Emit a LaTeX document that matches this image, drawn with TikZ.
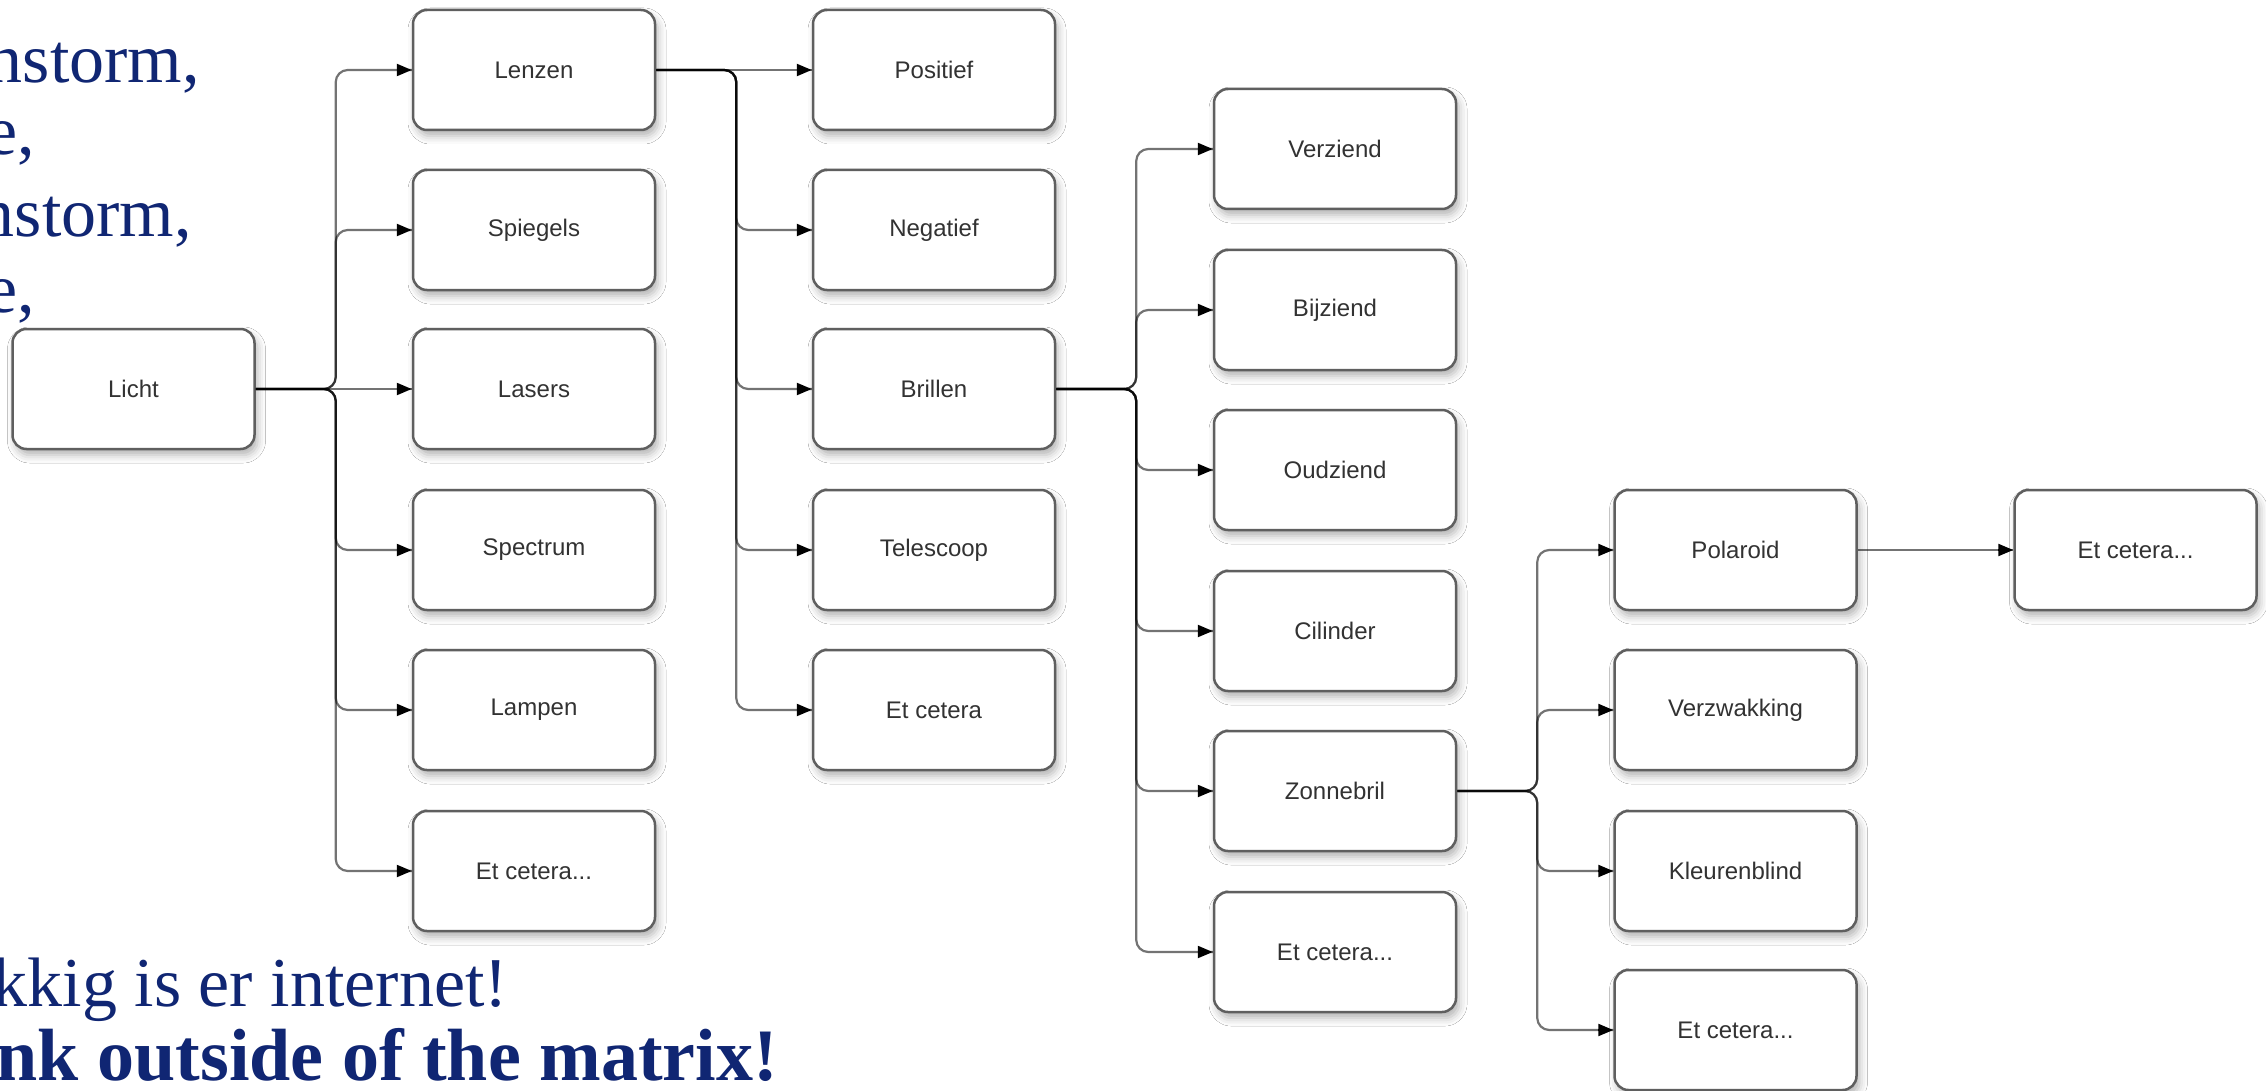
\documentclass[tikz,border=0pt]{standalone}
\usepackage{fontspec}
\setmainfont{Liberation Serif}
\newfontfamily\boxfont{Liberation Sans}
\usetikzlibrary{arrows.meta,shadows.blur,calc}

\definecolor{navy}{RGB}{16,38,115}
\definecolor{boxline}{RGB}{95,95,95}
\definecolor{boxtext}{RGB}{50,50,50}
\definecolor{shade}{RGB}{110,115,160}

\tikzset{
  stepbox/.style={rectangle, rounded corners=14pt, minimum width=242pt,
    minimum height=120pt, draw=boxline, line width=2.5pt, fill=white,
    text=boxtext, font=\boxfont\fontsize{24}{28}\selectfont,
    blur shadow={shadow xshift=3pt, shadow yshift=-6pt,
      shadow blur radius=8pt, shadow opacity=30}},
  link/.style={line width=2.2pt, draw=black, draw opacity=0.55,
    rounded corners=12pt},
  tiphead/.style={line width=2.2pt, black,
    -{Triangle[length=15pt,width=12pt]}},
  slidetext/.style={text=navy, inner sep=0pt,
    font=\fontsize{70}{70}\selectfont},
  slidebold/.style={text=navy, inner sep=0pt,
    font=\bfseries\fontsize{74}{74}\selectfont}
}

\begin{document}
\begin{tikzpicture}[x=1pt,y=-1pt]
\useasboundingbox (0,0) rectangle (2266,1091);
\clip (0,0) rectangle (2266,1091);
\fill[white] (0,0) rectangle (2266,1091);

% slide text around the diagram
\node[slidetext, anchor=base east] (s1) at (200,83)  {nstorm,};
\node[slidetext, anchor=base east] (s2) at (35,155)  {e,};
\node[slidetext, anchor=base east] (s3) at (192,237) {nstorm,};
\node[slidetext, anchor=base east] (s4) at (35,312)  {e,};
\node[slidetext, anchor=base east] (s5) at (508,1006) {kkig is er internet!};
\node[slidebold, anchor=base east] (s6) at (778,1080) {nk outside of the matrix!};

% level 1
\node[stepbox] (licht) at (133.5,389) {Licht};

% level 2
\node[stepbox] (lenzen)   at (534,70)  {Lenzen};
\node[stepbox] (spiegels) at (534,230) {Spiegels};
\node[stepbox] (lasers)   at (534,389) {Lasers};
\node[stepbox] (spectrum) at (534,550) {Spectrum};
\node[stepbox] (lampen)   at (534,710) {Lampen};
\node[stepbox] (etcA)     at (534,871) {Et cetera...};

% level 3
\node[stepbox] (positief)  at (934,70)  {Positief};
\node[stepbox] (negatief)  at (934,230) {Negatief};
\node[stepbox] (brillen)   at (934,389) {Brillen};
\node[stepbox] (telescoop) at (934,550) {Telescoop};
\node[stepbox] (etcB)      at (934,710) {Et cetera};

% level 4
\node[stepbox] (verziend) at (1335,149) {Verziend};
\node[stepbox] (bijziend) at (1335,310) {Bijziend};
\node[stepbox] (oudziend) at (1335,470) {Oudziend};
\node[stepbox] (cilinder) at (1335,631) {Cilinder};
\node[stepbox] (zonnebril) at (1335,791) {Zonnebril};
\node[stepbox] (etcC)     at (1335,952) {Et cetera...};

% level 5
\node[stepbox] (polaroid)     at (1735.5,550)  {Polaroid};
\node[stepbox] (verzwakking)  at (1735.5,710)  {Verzwakking};
\node[stepbox] (kleurenblind) at (1735.5,871)  {Kleurenblind};
\node[stepbox] (etcD)         at (1735.5,1030) {Et cetera...};

% level 6
\node[stepbox] (etcE) at (2135.5,550) {Et cetera...};

% elbow connectors: out of the source, along a trunk, into the target
\foreach \s/\t in {licht/lenzen, licht/spiegels, licht/spectrum,
                   licht/lampen, licht/etcA,
                   lenzen/negatief, lenzen/brillen, lenzen/telescoop,
                   lenzen/etcB,
                   brillen/verziend, brillen/bijziend, brillen/oudziend,
                   brillen/cilinder, brillen/zonnebril, brillen/etcC,
                   zonnebril/polaroid, zonnebril/verzwakking,
                   zonnebril/kleurenblind, zonnebril/etcD}{
  \draw[link] (\s.east) -- ++(80,0) |- (\t.west);
  \draw[tiphead] (\t.west) ++(-15,0) -- (\t.west);
}
% straight connectors
\foreach \s/\t in {licht/lasers, lenzen/positief, polaroid/etcE}{
  \draw[link] (\s.east) -- (\t.west);
  \draw[tiphead] (\t.west) ++(-15,0) -- (\t.west);
}
\end{tikzpicture}
\end{document}
